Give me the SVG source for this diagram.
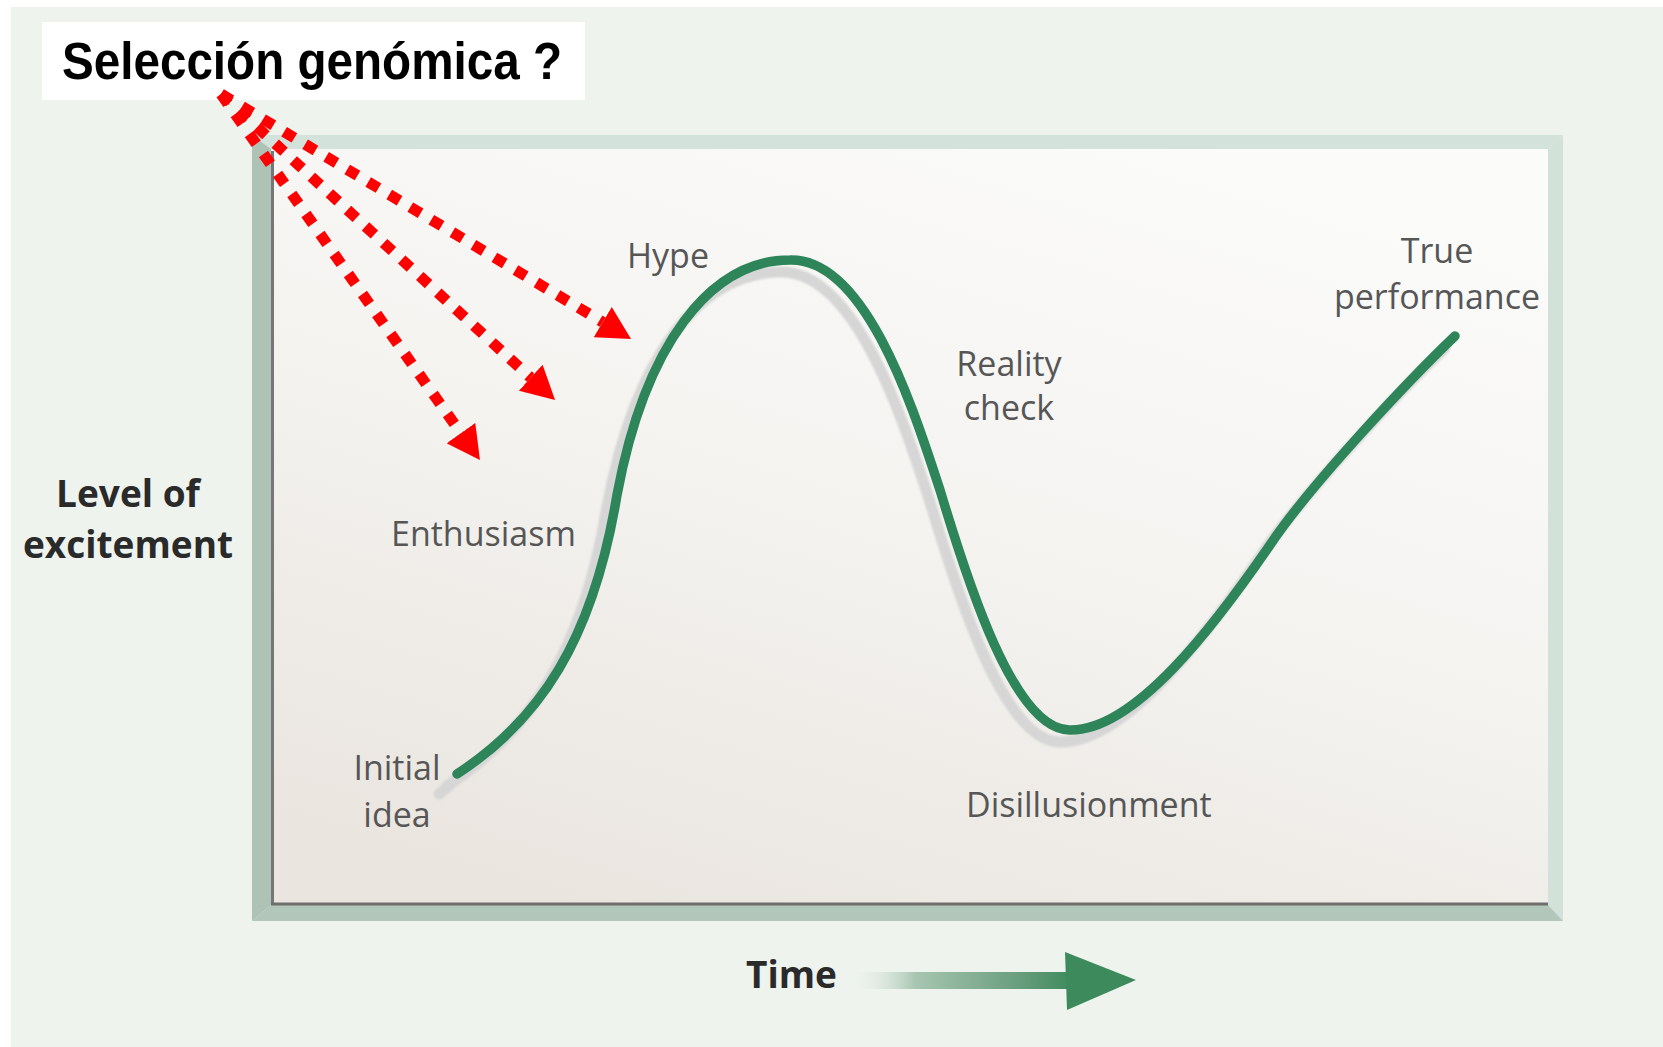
<svg xmlns="http://www.w3.org/2000/svg" width="1663" height="1047" viewBox="0 0 1663 1047">
  <defs>
    <style>
      .lbl { font-family: "Open Sans", "DejaVu Sans", sans-serif; font-size: 34px; fill: #565656; }
      .axis { font-family: "Open Sans", "DejaVu Sans", sans-serif; font-size: 37px; font-weight: 700; fill: #2a2a2a; }
      .title { font-family: "Liberation Sans", Arial, sans-serif; font-size: 51px; font-weight: 700; fill: #000; }
      .dots { fill: none; stroke: #ff0000; stroke-width: 11; stroke-dasharray: 12 12.5; stroke-linecap: butt; marker-end: url(#redHead); }
    </style>
    <marker id="redHead" viewBox="0 0 3 3.2" markerWidth="3" markerHeight="3.2" refX="0" refY="1.6" orient="auto" markerUnits="strokeWidth">
      <path d="M0,0 L3,1.6 L0,3.2 z" fill="#ff0000"/>
    </marker>
    <linearGradient id="panelFill" x1="0.75" y1="0" x2="0.25" y2="1">
      <stop offset="0" stop-color="#fbfbfa"/>
      <stop offset="0.5" stop-color="#f4f3f0"/>
      <stop offset="1" stop-color="#eae5df"/>
    </linearGradient>
    <linearGradient id="timeShaft" gradientUnits="userSpaceOnUse" x1="849" y1="0" x2="1070" y2="0">
      <stop offset="0" stop-color="#eef3ee" stop-opacity="0"/>
      <stop offset="0.3" stop-color="#a8c6b1"/>
      <stop offset="0.75" stop-color="#6c9f80"/>
      <stop offset="1" stop-color="#3f8b5e"/>
    </linearGradient>
    <filter id="soft" x="-5%" y="-5%" width="110%" height="110%">
      <feGaussianBlur stdDeviation="1.3"/>
    </filter>
    <!-- the hype-cycle line, shared by the ghost and the green stroke -->
    <path id="cycle" d="M457,774 C540,720 593,640 617,495 C645,345 710,260 790,260 C868,258 916,418 940,490 C967,580 1014,731 1070,730 C1135,731 1215,625 1270,545 C1310,485 1410,379 1455,336"/>
  </defs>

  <!-- page background -->
  <rect x="0" y="0" width="1663" height="1047" fill="#ffffff"/>
  <rect x="11" y="7" width="1652" height="1040" fill="#eef3ee"/>

  <!-- bevelled chart frame -->
  <g id="frame">
    <polygon points="252,135 1563,135 1548,149 271,149" fill="#d3e2da"/>
    <polygon points="1563,135 1563,921 1548,905 1548,149" fill="#d2e2da"/>
    <polygon points="252,135 271,149 271,905 252,921" fill="#aec3b6"/>
    <polygon points="252,921 271,905 1548,905 1563,921" fill="#b2c6b9"/>
    <rect x="271" y="149" width="1277" height="756" fill="url(#panelFill)"/>
    <line x1="272.5" y1="151" x2="272.5" y2="905" stroke="#767676" stroke-width="3"/>
    <line x1="271" y1="904" x2="1548" y2="904" stroke="#6e6e6e" stroke-width="3"/>
  </g>

  <!-- hype curve: soft grey ghost under the green line -->
  <g id="hype-curve">
    <g fill="none" stroke="#d6d6d6" stroke-width="11" stroke-linecap="round" filter="url(#soft)">
      <use href="#cycle" transform="translate(-10,12)"/>
      <path d="M439,794 L449,786"/>
    </g>
    <use href="#cycle" fill="none" stroke="#2e855a" stroke-width="9.5" stroke-linecap="round"/>
  </g>

  <!-- curve labels -->
  <g id="label-hype"><text class="lbl" x="668" y="268" text-anchor="middle">Hype</text></g>
  <g id="label-enthusiasm"><text class="lbl" x="391" y="546">Enthusiasm</text></g>
  <g id="label-initial-idea">
    <text class="lbl" x="397" y="780" text-anchor="middle">Initial</text>
    <text class="lbl" x="397" y="827" text-anchor="middle">idea</text>
  </g>
  <g id="label-reality-check">
    <text class="lbl" x="1009" y="376" text-anchor="middle">Reality</text>
    <text class="lbl" x="1009" y="420" text-anchor="middle">check</text>
  </g>
  <g id="label-disillusionment"><text class="lbl" x="966" y="817">Disillusionment</text></g>
  <g id="label-true-performance">
    <text class="lbl" x="1437" y="263" text-anchor="middle">True</text>
    <text class="lbl" x="1437" y="309" text-anchor="middle">performance</text>
  </g>

  <!-- axes -->
  <g id="axis-y">
    <text class="axis" x="128" y="507" text-anchor="middle">Level of</text>
    <text class="axis" x="128" y="558" text-anchor="middle">excitement</text>
  </g>
  <g id="axis-x">
    <text class="axis" x="746" y="988">Time</text>
    <rect x="849" y="972" width="220" height="17" fill="url(#timeShaft)"/>
    <polygon points="1065,952 1136,980 1067,1010" fill="#3d8b5d"/>
  </g>

  <!-- question label -->
  <g id="question">
    <rect x="42" y="22" width="543" height="78" fill="#ffffff"/>
    <text class="title" x="62" y="79" textLength="500" lengthAdjust="spacingAndGlyphs">Selección genómica ?</text>
  </g>

  <!-- dotted pointers from the question to the rising slope -->
  <g id="connectors">
    <path class="dots" d="M221,94 L602.7,322.1"/>
    <path class="dots" d="M221,94 L530.7,377.7"/>
    <path class="dots" d="M221,94 L460.9,433.1"/>
  </g>
</svg>
